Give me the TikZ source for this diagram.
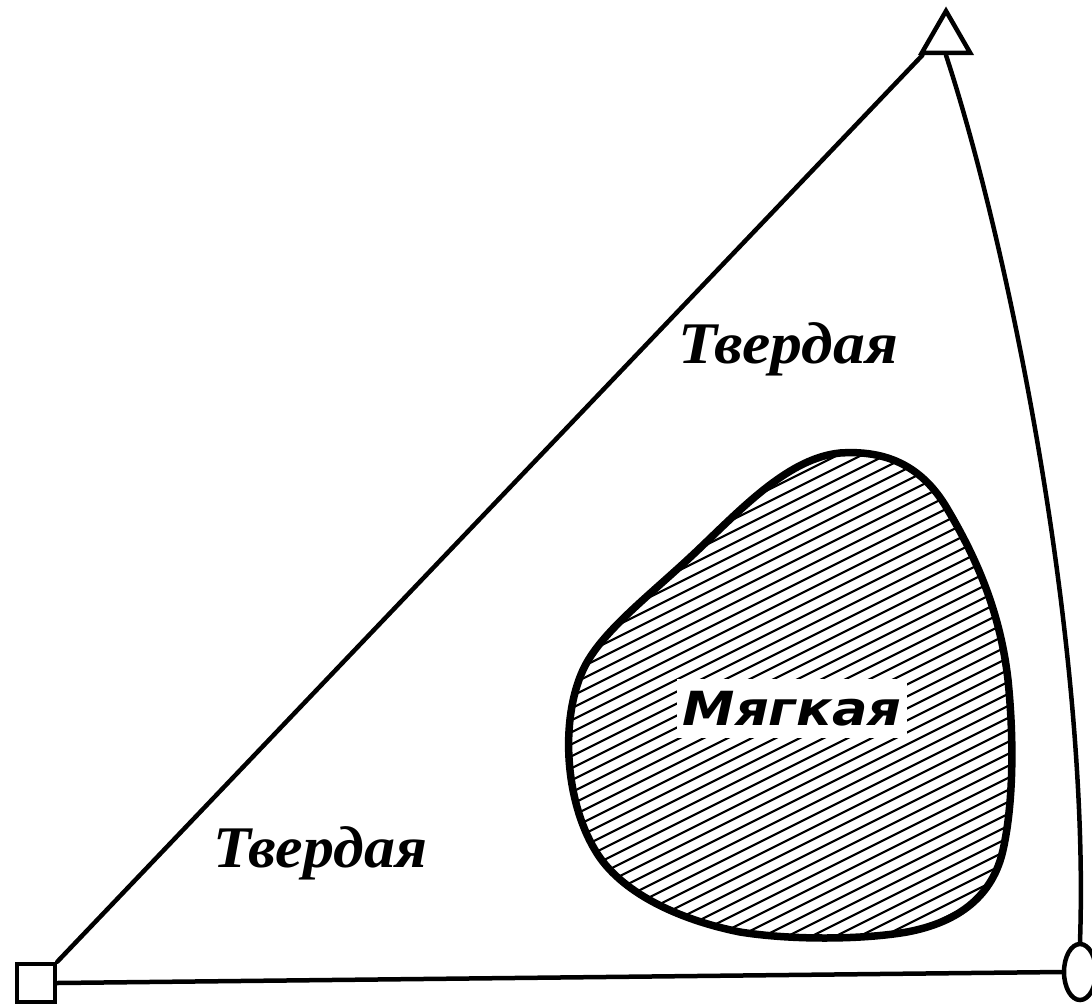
\documentclass[tikz,border=0pt]{standalone}
\usepackage{fontspec}
\usepackage{graphicx}
\setmainfont{Liberation Serif}
\newfontfamily\lblsans{DejaVu Sans}
\usetikzlibrary{shapes.geometric,calc}
\tikzset{
  conn/.style={line width=4.5pt, line cap=round, line join=round},
  marker/.style={draw, line width=4.5pt, fill=white, inner sep=0pt},
  hardlabel/.style={font=\fontsize{59}{60}\selectfont\bfseries\itshape, inner sep=0pt, anchor=base},
  softlabel/.style={font=\fontsize{47}{50}\selectfont\lblsans\bfseries\itshape, fill=white, inner xsep=6pt, inner ysep=12pt, anchor=base}
}
\begin{document}
\begin{tikzpicture}[x=1pt,y=-1pt]
\useasboundingbox (0,0) rectangle (1092,1006);
% markers
\node[marker, minimum width=38pt, minimum height=38pt] (sq) at (36,983) {};
\node[marker, regular polygon, regular polygon sides=3, minimum size=56pt] (tri) at (946,39) {};
\node[marker, ellipse, minimum width=32pt, minimum height=56pt] (ell) at (1080,972) {};
% connectors
\draw[conn] (sq.north east) -- ($(tri.corner 2)!0.08!(tri.corner 3)$);
\draw[conn] (tri.south) .. controls (1010,250) and (1090,650) .. (ell.north);
\draw[conn] (sq.east) -- (ell.west);
% soft region
\def\blobpath{(840,453) .. controls (885,450) and (920,465) .. (945,505)
  .. controls (975,555) and (1000,610) .. (1008,680)
  .. controls (1015,750) and (1012,810) .. (1003,850)
  .. controls (993,895) and (960,922) .. (907,932)
  .. controls (860,940) and (790,940) .. (740,932)
  .. controls (680,920) and (620,893) .. (595,850)
  .. controls (565,800) and (560,720) .. (583,670)
  .. controls (601,631) and (652,594) .. (700,548)
  .. controls (745,505) and (790,458) .. cycle}
\begin{scope}
  \clip \blobpath;
  \foreach \b in {730,742,...,1460}{
    \draw[line width=2.2pt] (550,\b-275) -- (1025,\b-512.5);
  }
\end{scope}
\draw[line width=7.5pt, line join=round] \blobpath;
% labels
\node[softlabel] (soft) at (792,725) {\scalebox{1.12}[1]{Мягкая}};
\node[hardlabel] (hard1) at (788,363) {\scalebox{1.08}[1]{Твердая}};
\node[hardlabel] (hard2) at (320,867) {\scalebox{1.05}[1]{Твердая}};
\end{tikzpicture}
\end{document}
